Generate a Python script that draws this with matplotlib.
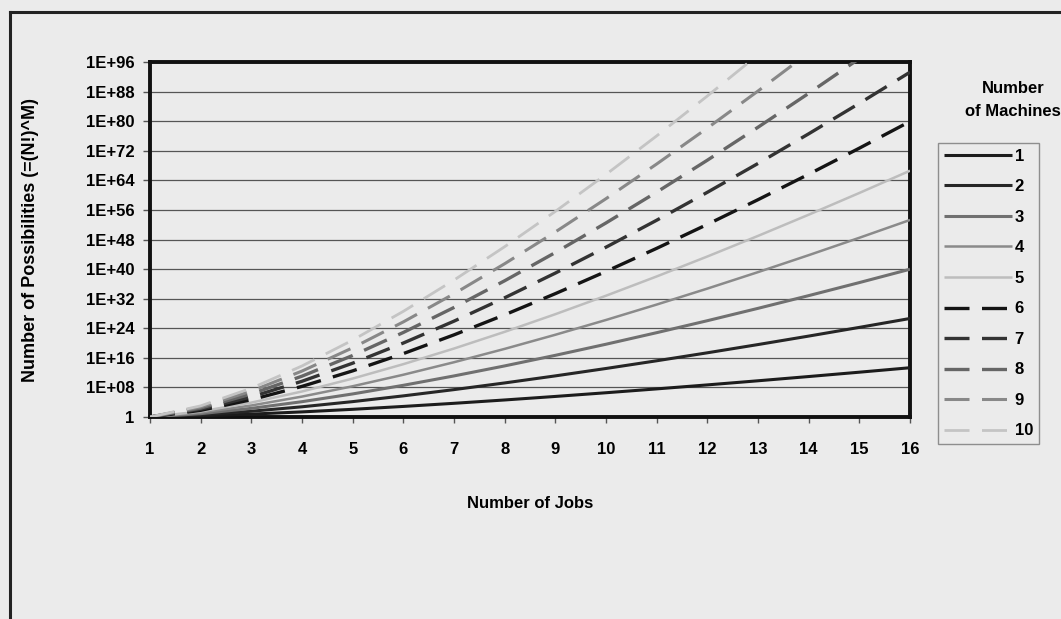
import numpy as np
import matplotlib.pyplot as plt
from matplotlib.lines import Line2D

plt.rcParams['font.family'] = ['Liberation Sans', 'DejaVu Sans']
plt.rcParams['font.weight'] = 'bold'
plt.rcParams['lines.scale_dashes'] = False

# number of jobs N and N! for each
jobs = list(range(1, 17))
factorials = [1, 2, 6, 24, 120, 720, 5040, 40320, 362880, 3628800,
              39916800, 479001600, 6227020800, 87178291200,
              1307674368000, 20922789888000]
machines = [1, 2, 3, 4, 5, 6, 7, 8, 9, 10]

colors = ['#1c1c1c', '#262626', '#707070', '#8a8a8a', '#bdbdbd',
          '#141414', '#333333', '#666666', '#888888', '#c4c4c4']
widths = [2.2, 2.2, 2.2, 1.8, 1.8, 2.4, 2.4, 2.4, 2.2, 2.0]
dashed = [False] * 5 + [True] * 5

ytick_vals = [10.0 ** e for e in range(0, 97, 8)]
ytick_labels = ['1'] + ['1E+%02d' % e for e in range(8, 97, 8)]

bg = '#ebebeb'
fig = plt.figure(figsize=(10.61, 6.19), dpi=100, facecolor=bg)
ax = fig.add_axes([150 / 1061, 202 / 619, 760 / 1061, 355 / 619], facecolor=bg)

fact = np.array(factorials, dtype=float)
handles = []
for m, c, lw, d in zip(machines, colors, widths, dashed):
    ln, = ax.plot(jobs, fact ** m, color=c, lw=lw, solid_capstyle='butt',
                  dash_capstyle='butt', label=str(m), zorder=3)
    if d:
        ln.set_dashes((18, 9))
    handles.append(ln)

ax.set_yscale('log')
ax.set_ylim(1, 1e96)
ax.set_xlim(1, 16)
ax.set_yticks(ytick_vals)
ax.set_yticklabels(ytick_labels)
ax.minorticks_off()
ax.set_xticks(jobs)
ax.set_xticklabels([str(j) for j in jobs])
ax.tick_params(axis='y', direction='out', length=5, width=1, color='#555555',
               labelsize=12, pad=6)
ax.tick_params(axis='x', direction='out', length=4, width=1, color='#555555',
               labelsize=12, pad=14)
ax.grid(axis='y', color='#555555', lw=0.9, zorder=1)
for s in ax.spines.values():
    s.set_linewidth(2.8)
    s.set_color('#111111')

ax.set_xlabel('Number of Jobs', fontsize=12, fontweight='bold', labelpad=28)
ax.set_ylabel('Number of Possibilities (=(N!)^M)', fontsize=13,
              fontweight='bold', labelpad=34)

# legend with its title set above the box
leg = fig.legend(handles=handles, loc='upper left',
                 bbox_to_anchor=(938 / 1061, 1 - 143 / 619),
                 frameon=True, fancybox=False, edgecolor='#777777',
                 facecolor=bg, fontsize=12, handlelength=4.1,
                 handletextpad=0.15, labelspacing=0.93, borderpad=0.35,
                 borderaxespad=0)
leg.get_frame().set_linewidth(1.0)
fig.text(1013 / 1061, 1 - 100 / 619, 'Number\nof Machines', ha='center',
         va='center', fontsize=12, fontweight='bold', linespacing=1.6)

# outer chart frame
fig.add_artist(Line2D([10 / 1061, 10 / 1061], [0, 1 - 12 / 619],
                      transform=fig.transFigure, color='#222222', lw=2.2))
fig.add_artist(Line2D([10 / 1061, 1], [1 - 12 / 619, 1 - 12 / 619],
                      transform=fig.transFigure, color='#222222', lw=2.2))

fig.savefig('out.png', dpi=100, facecolor=bg)
